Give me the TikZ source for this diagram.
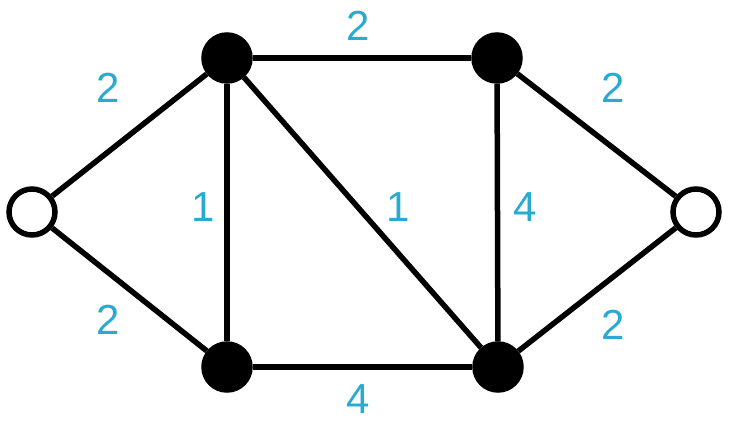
\documentclass[tikz,border=0pt]{standalone}
\usepackage{fontspec}
\setmainfont{Liberation Sans}
\definecolor{lbl}{RGB}{41,171,209}
\begin{document}
\begin{tikzpicture}[x=1pt,y=-1pt,
  vtx/.style={circle,draw=black,line width=5.5pt,minimum size=46pt,inner sep=0pt},
  full/.style={vtx,fill=black},
  open/.style={vtx,fill=white},
  edge/.style={line width=5.5pt},
  wt/.style={text=lbl,font=\fontsize{42}{42}\selectfont,inner sep=0pt}]
\useasboundingbox (0,0) rectangle (731,424);
\node[open] (L) at (32,212) {};
\node[full] (A) at (227,58) {};
\node[full] (B) at (227,367) {};
\node[full] (C) at (497,58) {};
\node[full] (D) at (498,367) {};
\node[open] (R) at (696,212) {};
\draw[edge] (L) -- (A);
\draw[edge] (L) -- (B);
\draw[edge] (A) -- (B);
\draw[edge] (A) -- (C);
\draw[edge] (A) -- (D);
\draw[edge] (B) -- (D);
\draw[edge] (C) -- (D);
\draw[edge] (C) -- (R);
\draw[edge] (D) -- (R);
\node[wt] (w1) at (108,88) {2};
\node[wt] (w2) at (108,320) {2};
\node[wt] (w3) at (203,207) {1};
\node[wt] (w4) at (398,207) {1};
\node[wt] (w5) at (358,26) {2};
\node[wt] (w6) at (358,399) {4};
\node[wt] (w7) at (525,207) {4};
\node[wt] (w8) at (613,88) {2};
\node[wt] (w9) at (613,325) {2};
\end{tikzpicture}
\end{document}
